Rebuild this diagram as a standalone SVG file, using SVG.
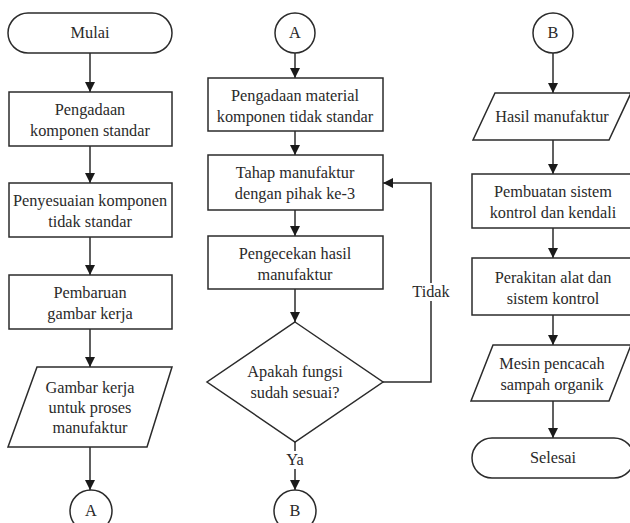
<svg xmlns="http://www.w3.org/2000/svg" width="630" height="523" viewBox="0 0 630 523">
<defs>
<marker id="arr" viewBox="0 0 10 10" refX="10" refY="5" markerWidth="10" markerHeight="10" markerUnits="userSpaceOnUse" orient="auto">
<path d="M0,0 L10,5 L0,10 z" fill="#1a1a1a"/>
</marker>
</defs>
<style>
.s{fill:#fff;stroke:#2b2b2b;stroke-width:1.5}
.t{font-family:"Liberation Serif","Times New Roman",serif;font-size:16.3px;fill:#2a2a2a;text-anchor:middle}
.c{fill:none;stroke:#2b2b2b;stroke-width:1.5}
</style>
<rect width="630" height="523" fill="#fff"/>
<g id="connectors">
<path class="c" d="M90,53 V92" marker-end="url(#arr)"/>
<path class="c" d="M90,146 V183" marker-end="url(#arr)"/>
<path class="c" d="M90,237 V275" marker-end="url(#arr)"/>
<path class="c" d="M90,329 V367" marker-end="url(#arr)"/>
<path class="c" d="M90,447 V490" marker-end="url(#arr)"/>
<path class="c" d="M295,53 V78" marker-end="url(#arr)"/>
<path class="c" d="M295,131 V155" marker-end="url(#arr)"/>
<path class="c" d="M295,210 V236" marker-end="url(#arr)"/>
<path class="c" d="M295,289 V322" marker-end="url(#arr)"/>
<path class="c" d="M295,442 V490" marker-end="url(#arr)"/>
<path class="c" d="M383,382 H431 V183 H383" marker-end="url(#arr)"/>
<path class="c" d="M553,53 V93" marker-end="url(#arr)"/>
<path class="c" d="M553,140 V174" marker-end="url(#arr)"/>
<path class="c" d="M553,228 V258" marker-end="url(#arr)"/>
<path class="c" d="M553,315 V345" marker-end="url(#arr)"/>
<path class="c" d="M553,401 V438" marker-end="url(#arr)"/>
<rect x="413" y="283" width="36" height="18" fill="#fff"/>
<text class="t" x="431" y="297">Tidak</text>
<rect x="285" y="451" width="20" height="18" fill="#fff"/>
<text class="t" x="295" y="465">Ya</text>
</g>
<g id="mulai">
<rect class="s" x="8" y="13" width="164" height="40" rx="20"/>
<text class="t" x="90" y="38">Mulai</text>
</g>
<g id="pengadaan">
<rect class="s" x="9" y="92" width="163" height="54"/>
<text class="t" x="90" y="115">Pengadaan</text>
<text class="t" x="90" y="136">komponen standar</text>
</g>
<g id="penyesuaian">
<rect class="s" x="9" y="183" width="163" height="54"/>
<text class="t" x="90" y="206">Penyesuaian komponen</text>
<text class="t" x="90" y="227">tidak standar</text>
</g>
<g id="pembaruan">
<rect class="s" x="9" y="275" width="163" height="54"/>
<text class="t" x="90" y="298">Pembaruan</text>
<text class="t" x="90" y="319">gambar kerja</text>
</g>
<g id="gambar">
<polygon class="s" points="37,367 172,367 147,447 8,447"/>
<text class="t" x="90" y="393">Gambar kerja</text>
<text class="t" x="90" y="413">untuk proses</text>
<text class="t" x="90" y="433">manufaktur</text>
</g>
<g id="a1">
<circle class="s" cx="91" cy="511" r="21"/>
<text class="t" x="91" y="516">A</text>
</g>
<g id="a2">
<circle class="s" cx="295" cy="33" r="20"/>
<text class="t" x="295" y="38">A</text>
</g>
<g id="material">
<rect class="s" x="208" y="78" width="175" height="53"/>
<text class="t" x="295" y="101">Pengadaan material</text>
<text class="t" x="295" y="122">komponen tidak standar</text>
</g>
<g id="tahap">
<rect class="s" x="208" y="155" width="175" height="55"/>
<text class="t" x="295" y="178">Tahap manufaktur</text>
<text class="t" x="295" y="199">dengan pihak ke-3</text>
</g>
<g id="pengecekan">
<rect class="s" x="208" y="236" width="175" height="53"/>
<text class="t" x="295" y="259">Pengecekan hasil</text>
<text class="t" x="295" y="280">manufaktur</text>
</g>
<g id="keputusan">
<polygon class="s" points="295,322 383,382 295,442 207,382"/>
<text class="t" x="295" y="377">Apakah fungsi</text>
<text class="t" x="295" y="398">sudah sesuai?</text>
</g>
<g id="b1">
<circle class="s" cx="295" cy="511" r="21"/>
<text class="t" x="295" y="516">B</text>
</g>
<g id="b2">
<circle class="s" cx="553" cy="33" r="20"/>
<text class="t" x="553" y="38">B</text>
</g>
<g id="hasil">
<polygon class="s" points="495,93 631,93 609,140 473,140"/>
<text class="t" x="552" y="122">Hasil manufaktur</text>
</g>
<g id="pembuatan">
<rect class="s" x="472" y="174" width="162" height="54"/>
<text class="t" x="553" y="197">Pembuatan sistem</text>
<text class="t" x="553" y="218">kontrol dan kendali</text>
</g>
<g id="perakitan">
<rect class="s" x="472" y="258" width="162" height="57"/>
<text class="t" x="553" y="283">Perakitan alat dan</text>
<text class="t" x="553" y="304">sistem kontrol</text>
</g>
<g id="mesin">
<polygon class="s" points="493,345 631,345 609,401 471,401"/>
<text class="t" x="552" y="369">Mesin pencacah</text>
<text class="t" x="552" y="390">sampah organik</text>
</g>
<g id="selesai">
<rect class="s" x="472" y="438" width="162" height="40" rx="20"/>
<text class="t" x="553" y="463">Selesai</text>
</g>
</svg>
